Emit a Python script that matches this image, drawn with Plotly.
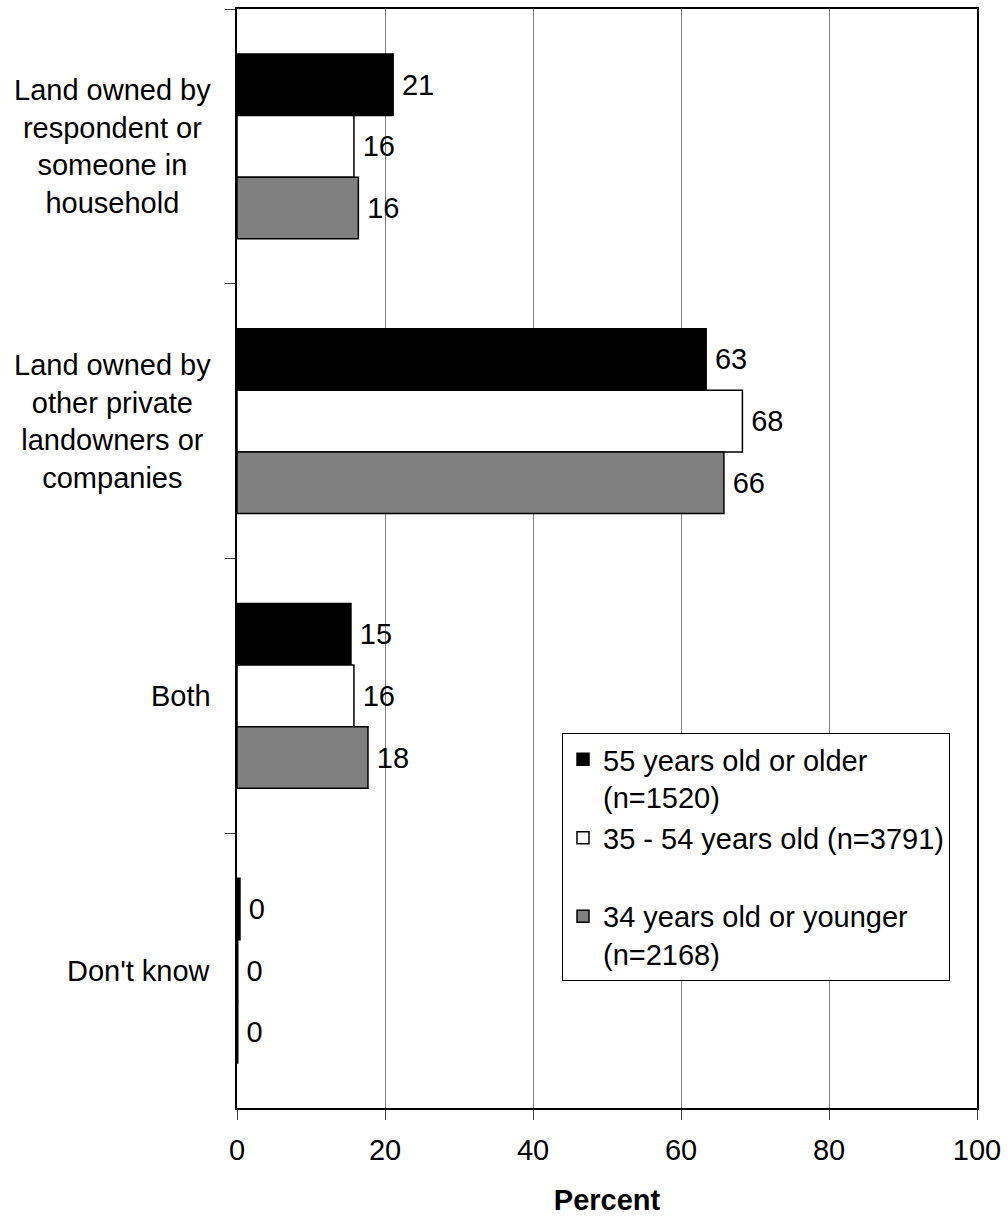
import plotly.graph_objects as go

categories = ["Land owned by<br>respondent or<br>someone in<br>household",
              "Land owned by<br>other private<br>landowners or<br>companies",
              "Both",
              "Don't know"]
series_names = ["55 years old or older<br>(n=1520)",
                "35 - 54 years old (n=3791)<br> ",
                "34 years old or younger<br>(n=2168)"]
older = [21.1, 63.4, 15.4, 0.4]
middle = [15.8, 68.3, 15.8, 0.1]
younger = [16.4, 65.8, 17.7, 0.1]
x_ticks = [0, 20, 40, 60, 80, 100]

FONT = "Liberation Sans, Arial, sans-serif"
FS = 29
fills = ["#000000", "#ffffff", "#808080"]
cat_ids = ["c0", "c1", "c2", "c3"]

fig = go.Figure()
for name, vals, col in zip(series_names, [older, middle, younger], fills):
    fig.add_trace(go.Bar(
        y=cat_ids, x=vals, orientation="h", name=name,
        marker=dict(color=col, line=dict(color="black", width=1.5)),
        text=["\u2009" + str(round(v)) for v in vals],
        textposition="outside", cliponaxis=False,
        textfont=dict(family=FONT, size=FS, color="black"),
        constraintext="none",
    ))

for cid, lab in zip(cat_ids, categories):
    fig.add_annotation(x=-0.0324, xref="paper", y=cid, yref="y",
                       text=lab, showarrow=False, xanchor="right",
                       yanchor="middle", align="center",
                       font=dict(family=FONT, size=FS, color="black"))

fig.update_layout(
    width=1008, height=1216,
    margin=dict(l=237, r=31, t=9, b=108),
    paper_bgcolor="white", plot_bgcolor="white",
    barmode="group", bargap=0.327, bargroupgap=0,
    font=dict(family=FONT, size=FS, color="black"),
    showlegend=True,
    legend=dict(x=(562 - 237) / 740, y=(1108 - 733) / 1099,
                xanchor="left", yanchor="top",
                bgcolor="white", bordercolor="black", borderwidth=1,
                font=dict(family=FONT, size=FS, color="black"),
                valign="top", traceorder="normal", tracegroupgap=0),
    xaxis=dict(range=[0, 100], tickvals=x_ticks, ticktext=[str(t) for t in x_ticks],
               showgrid=True, gridcolor="#808080", gridwidth=1,
               showline=True, linecolor="black", linewidth=2, mirror=True,
               ticks="outside", ticklen=10, tickcolor="#404040", tickwidth=1,
               tickfont=dict(family=FONT, size=FS), ticklabelstandoff=5,
               zeroline=False, automargin=False,
               title=dict(text="<b>Percent</b>", font=dict(family=FONT, size=FS),
                          standoff=30)),
    yaxis=dict(categoryorder="array", categoryarray=cat_ids,
               autorange="reversed", showticklabels=False, automargin=False,
               showline=True, linecolor="black", linewidth=2, mirror=True,
               ticks="outside", ticklen=10, tickcolor="#404040", tickwidth=1,
               tickson="boundaries", showgrid=False, zeroline=False),
)

fig.write_html("out.html", config={"displayModeBar": False},
               post_script="document.body.style.margin='0';document.body.style.padding='0';")
